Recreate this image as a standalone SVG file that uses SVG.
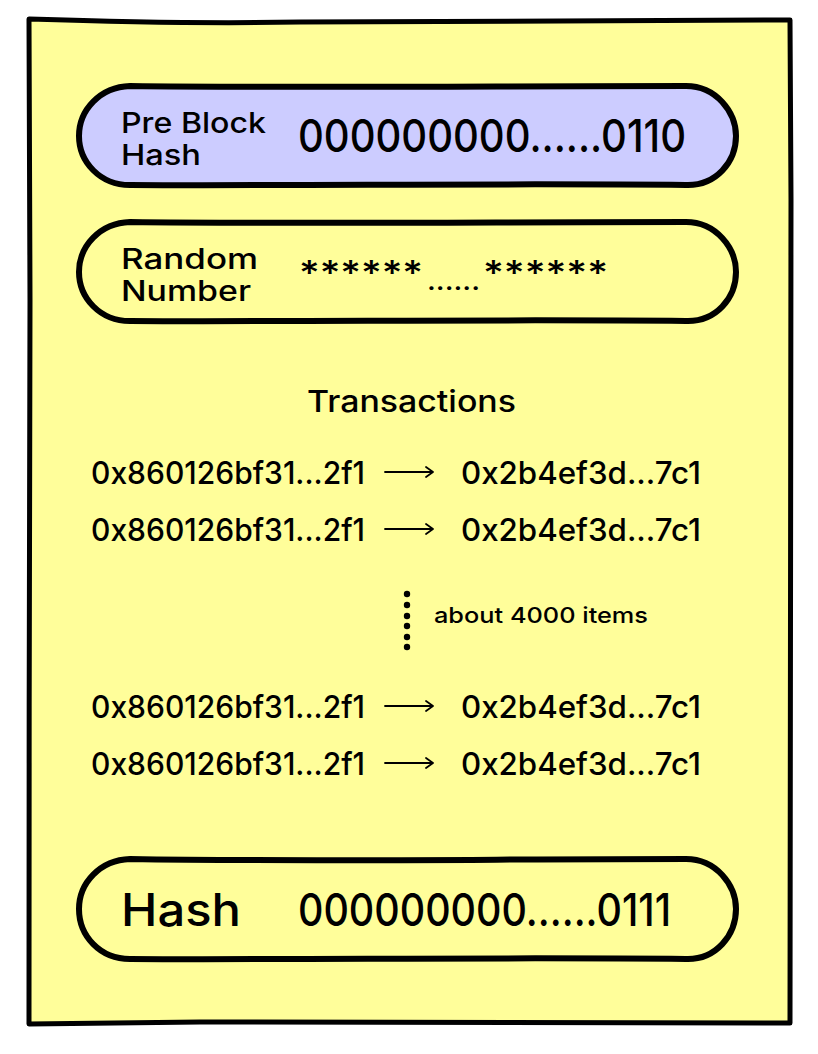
<svg xmlns="http://www.w3.org/2000/svg" width="818" height="1054" viewBox="0 0 818 1054">
<style>
.t{font-family:Inter,"Noto Sans","Liberation Sans",sans-serif;font-weight:500;fill:#000}
.pill{stroke:#000;stroke-width:6;stroke-linejoin:round}
.arr{fill:none;stroke:#000;stroke-width:1.8;stroke-linecap:round;stroke-linejoin:round}
</style>
<rect width="818" height="1054" fill="#fff"/>
<g id="block">
<path d="M29,19 C120,22 200,24 300,22 C450,21 600,22 790,20 L791,200 C790,450 792,700 790,1023 C600,1021 400,1024 200,1022 L29,1024 C30,800 28,500 30,300 C29,200 30,100 29,19 Z" fill="#FFFE9A" stroke="#000" stroke-width="5" stroke-linejoin="round"/>
</g>
<g id="pre-block-hash">
<path class="pill" fill="#CCCCFF" d="M130,86 C300,88 500,86 686,86 C716,86 736,112 736,136 C736,162 716,186 686,185 C500,183 300,186 130,185 C100,185 79,162 79,136 C79,110 100,87 130,86 Z"/>
<text class="t" x="121" y="133" font-size="28" textLength="145" lengthAdjust="spacingAndGlyphs">Pre Block</text>
<text class="t" x="121" y="165" font-size="28" textLength="80" lengthAdjust="spacingAndGlyphs">Hash</text>
<text class="t" x="298" y="152" font-size="45" textLength="388" lengthAdjust="spacingAndGlyphs">000000000......0110</text>
</g>
<g id="random-number">
<path class="pill" fill="#FFFE9A" d="M130,222 C300,224 500,222 686,222 C716,222 736,248 736,272 C736,298 716,322 686,321 C500,319 300,322 130,321 C100,321 79,298 79,272 C79,246 100,223 130,222 Z"/>
<text class="t" x="121" y="269" font-size="28" textLength="137" lengthAdjust="spacingAndGlyphs">Random</text>
<text class="t" x="121" y="301" font-size="28" textLength="130" lengthAdjust="spacingAndGlyphs">Number</text>
<text class="t" x="299" y="285" font-size="34" textLength="124" lengthAdjust="spacingAndGlyphs">******</text>
<text class="t" x="427" y="290" font-size="26" textLength="53" lengthAdjust="spacingAndGlyphs">......</text>
<text class="t" x="483" y="285" font-size="34" textLength="125" lengthAdjust="spacingAndGlyphs">******</text>
</g>
<g id="transactions">
<text class="t" x="307" y="412" font-size="30" textLength="209" lengthAdjust="spacingAndGlyphs">Transactions</text>
<text class="t" x="91" y="484" font-size="31" textLength="274" lengthAdjust="spacingAndGlyphs">0x860126bf31...2f1</text>
<text class="t" x="461" y="484" font-size="31" textLength="240" lengthAdjust="spacingAndGlyphs">0x2b4ef3d...7c1</text>
<text class="t" x="91" y="541" font-size="31" textLength="274" lengthAdjust="spacingAndGlyphs">0x860126bf31...2f1</text>
<text class="t" x="461" y="541" font-size="31" textLength="240" lengthAdjust="spacingAndGlyphs">0x2b4ef3d...7c1</text>
<g id="ellipsis" fill="#000">
<circle cx="407" cy="594" r="3.2"/>
<circle cx="407" cy="605" r="3.2"/>
<circle cx="407" cy="616" r="3.2"/>
<circle cx="407" cy="626" r="3.2"/>
<circle cx="407" cy="637" r="3.2"/>
<circle cx="407" cy="647" r="3.2"/>
</g>
<text class="t" x="434" y="623" font-size="22" textLength="214" lengthAdjust="spacingAndGlyphs">about 4000 items</text>
<text class="t" x="91" y="718" font-size="31" textLength="274" lengthAdjust="spacingAndGlyphs">0x860126bf31...2f1</text>
<text class="t" x="461" y="718" font-size="31" textLength="240" lengthAdjust="spacingAndGlyphs">0x2b4ef3d...7c1</text>
<text class="t" x="91" y="775" font-size="31" textLength="274" lengthAdjust="spacingAndGlyphs">0x860126bf31...2f1</text>
<text class="t" x="461" y="775" font-size="31" textLength="240" lengthAdjust="spacingAndGlyphs">0x2b4ef3d...7c1</text>
</g>
<g id="connectors">
<path class="arr" d="M385,472 H433 M426,467 L433,472 L426,477"/>
<path class="arr" d="M385,529 H433 M426,524 L433,529 L426,534"/>
<path class="arr" d="M385,706 H433 M426,701 L433,706 L426,711"/>
<path class="arr" d="M385,763 H433 M426,758 L433,763 L426,768"/>
</g>
<g id="hash">
<path class="pill" fill="#FFFE9A" d="M130,859 C300,862 500,859 686,859 C716,859 736,885 736,909 C736,935 716,960 686,959 C500,957 300,960 130,959 C100,959 79,936 79,909 C79,883 100,860 130,859 Z"/>
<text class="t" x="121" y="926" font-size="45" textLength="120" lengthAdjust="spacingAndGlyphs">Hash</text>
<text class="t" x="298" y="926" font-size="45" textLength="373" lengthAdjust="spacingAndGlyphs">000000000......0111</text>
</g>
</svg>
